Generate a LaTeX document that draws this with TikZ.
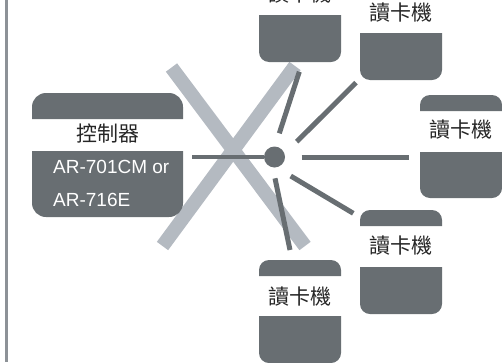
\documentclass[tikz,border=0pt]{standalone}
\usepackage{fontspec}
\setmainfont{Liberation Sans}
\newfontfamily\cjkfont{Noto Sans CJK TC}
\definecolor{boxgray}{HTML}{686E72}
\definecolor{crossgray}{HTML}{B4BAC1}
\definecolor{railgray}{HTML}{8D9297}
\definecolor{labelgray}{HTML}{262626}

\begin{document}
\begin{tikzpicture}[
            x=1pt, y=-1pt,
            panel/.style={fill=boxgray},
            cjklabel/.style={font=\cjkfont\fontsize{21}{25}\selectfont, text=labelgray, inner sep=0pt},
            model/.style={font=\fontsize{19}{23}\selectfont, text=white, inner sep=0pt, anchor=base west},
            spoke/.style={draw=boxgray, line width=5pt},
            wire/.style={draw=boxgray, line width=4.5pt},
            cross/.style={draw=crossgray, line width=14pt},
            hubdot/.style={circle, fill=boxgray, minimum size=21pt, inner sep=0pt}
        ]
        \useasboundingbox (0,0) rectangle (502,362);
        \clip (0,0) rectangle (502,362);

        % Left rail
        \draw[railgray, line width=3pt] (6,0) -- (6,362);

        % Crossed out link (behind)
        \coordinate (xa) at (171.5,67.5);
        \coordinate (xb) at (305,246);
        \coordinate (xc) at (295,66);
        \coordinate (xd) at (162.5,246);
        \draw[cross] (xa) -- (xb);
        \draw[cross] (xc) -- (xd);

        % Controller
        \fill[panel] (32,119) [rounded corners=14pt] -- (32,93) -- (183,93) [sharp corners] -- (183,119) -- cycle;
        \fill[panel] (183,151) -- (32,151) [rounded corners=14pt] -- (32,217) -- (183,217) [sharp corners] -- cycle;
        \node[cjklabel] (ctrl) at (107.5,133) {控制器};
        \node[model] (ctrlA) at (53,173) {AR-701CM or};
        \node[model] (ctrlB) at (53,206) {AR-716E};

        % Hub
        \node[hubdot] (hub) at (274.5,157) {};
        \coordinate (c0) at (192,157);
        \draw[wire] (c0) -- (hub);

        % Readers
        \fill[panel] (259,-26) [rounded corners=10pt] -- (259,-42) -- (341,-42) [sharp corners] -- (341,-26) -- cycle;
        \fill[panel] (341,15) -- (259,15) [rounded corners=10pt] -- (259,62) -- (341,62) [sharp corners] -- cycle;
        \node[cjklabel] (r1) at (300,-6) {讀卡機};

        \fill[panel] (360,-8) [rounded corners=10pt] -- (360,-24) -- (442,-24) [sharp corners] -- (442,-8) -- cycle;
        \fill[panel] (442,33) -- (360,33) [rounded corners=10pt] -- (360,80) -- (442,80) [sharp corners] -- cycle;
        \node[cjklabel] (r2) at (401,13) {讀卡機};

        \fill[panel] (420,111) [rounded corners=10pt] -- (420,95) -- (502,95) [sharp corners] -- (502,111) -- cycle;
        \fill[panel] (502,152) -- (420,152) [rounded corners=10pt] -- (420,198) -- (502,198) [sharp corners] -- cycle;
        \node[cjklabel] (r3) at (461,130) {讀卡機};

        \fill[panel] (360,226) [rounded corners=10pt] -- (360,210) -- (442,210) [sharp corners] -- (442,226) -- cycle;
        \fill[panel] (442,267) -- (360,267) [rounded corners=10pt] -- (360,314) -- (442,314) [sharp corners] -- cycle;
        \node[cjklabel] (r4) at (401,246) {讀卡機};

        \fill[panel] (259,276) [rounded corners=10pt] -- (259,260) -- (341,260) [sharp corners] -- (341,276) -- cycle;
        \fill[panel] (341,316) -- (259,316) [rounded corners=10pt] -- (259,363) -- (341,363) [sharp corners] -- cycle;
        \node[cjklabel] (r5) at (300,297) {讀卡機};

        % Spokes to readers
        \coordinate (s1a) at (279.3,133.3); \coordinate (s1b) at (299.3,71.7);
        \coordinate (s2a) at (296.7,141.7); \coordinate (s2b) at (356,82.7);
        \coordinate (s3a) at (301.7,157);   \coordinate (s3b) at (409,157);
        \coordinate (s4a) at (290.7,176);   \coordinate (s4b) at (353.3,213.3);
        \coordinate (s5a) at (275,178.3);   \coordinate (s5b) at (290,250);
        \draw[spoke] (s1a) -- (s1b);
        \draw[spoke] (s2a) -- (s2b);
        \draw[spoke] (s3a) -- (s3b);
        \draw[spoke] (s4a) -- (s4b);
        \draw[spoke] (s5a) -- (s5b);

    \end{tikzpicture}
\end{document}
